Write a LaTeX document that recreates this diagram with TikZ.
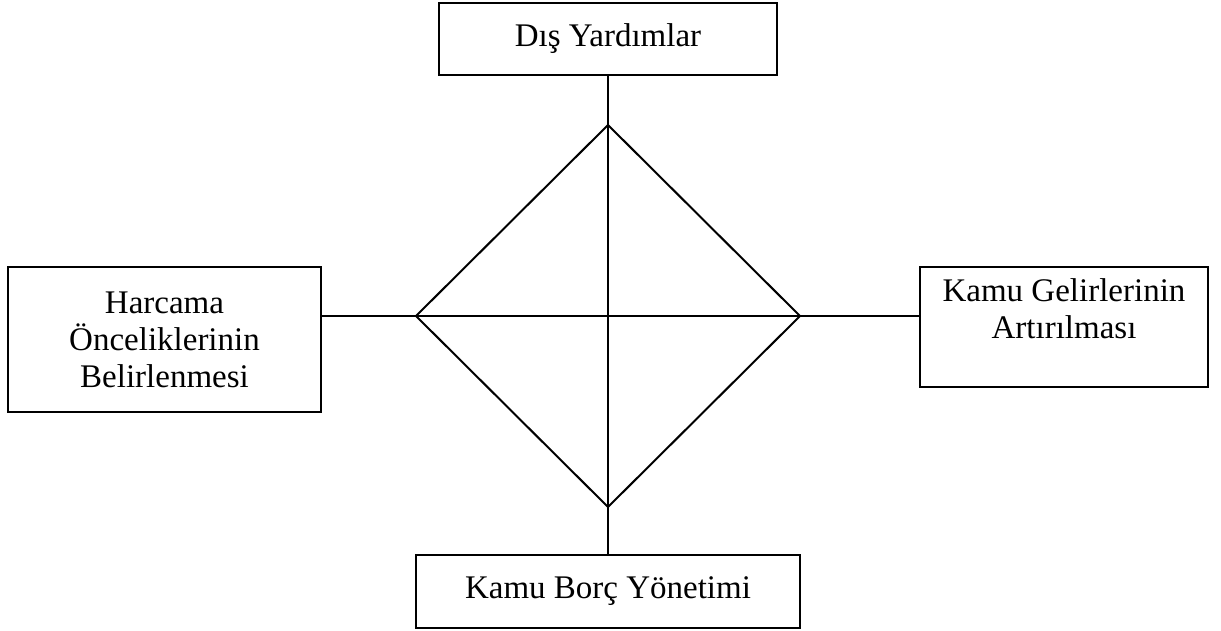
\documentclass[tikz,border=0pt]{standalone}
\usepackage{fontspec}
\setmainfont{Liberation Serif}
\begin{document}
\begin{tikzpicture}[x=0.5pt,y=-0.5pt,line width=1pt]
		\tikzstyle{kutu}=[draw,shape=rectangle,inner sep=0pt,align=center,font=\fontsize{16.5}{18.5}\selectfont]
		\useasboundingbox (0,0) rectangle (1221,631);

		\node[kutu,minimum width=169pt,minimum height=36pt](dis) at (608,39){D\i{}ş Yard\i{}mlar};
		\node[kutu,minimum width=156.5pt,minimum height=72.5pt](harcama) at (164.5,339.5){Harcama\\Önceliklerinin\\Belirlenmesi};
		\node[kutu,minimum width=144pt,minimum height=60pt](gelir) at (1064,327){Kamu Gelirlerinin\\Art\i{}r\i{}lmas\i{}\\\mbox{}};
		\node[kutu,minimum width=192pt,minimum height=36.5pt](borc) at (608,591.5){Kamu Borç Yönetimi};

		\coordinate (m) at (608,316);
		\coordinate (ust) at (608,125);
		\coordinate (alt) at (608,507);
		\coordinate (sol) at (416,316);
		\coordinate (sag) at (800,316);

		\draw (ust) -- (sag) -- (alt) -- (sol) -- cycle;
		\draw (dis.south) -- (borc.north);
		\draw (m -| harcama.east) -- (m -| gelir.west);
	\end{tikzpicture}
\end{document}
